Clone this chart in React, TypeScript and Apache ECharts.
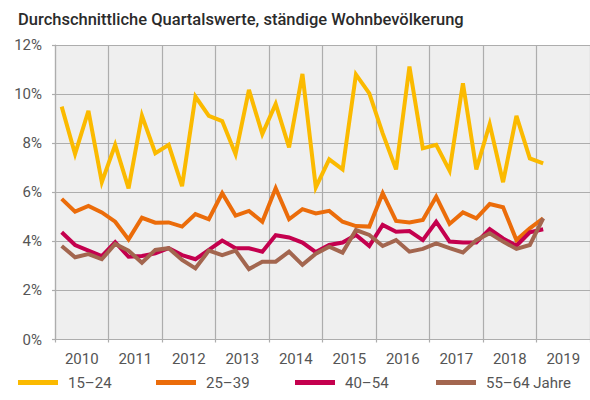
import React, { useEffect, useRef } from "react";
import * as echarts from "echarts";

const titleText = "Durchschnittliche Quartalswerte, ständige Wohnbevölkerung";
const years = ["2010", "2011", "2012", "2013", "2014", "2015", "2016", "2017", "2018", "2019"];
const quarters = years.flatMap((y) => ["Q1", "Q2", "Q3", "Q4"].map((q) => `${y} ${q}`));
const seriesNames = ["15–24", "25–39", "40–54", "55–64 Jahre"];
const colors = ["#FBBA00", "#EB6C0A", "#C4004E", "#A3664F"];

const age15_24 = [
  9.49, 7.56, 9.32, 6.41, 7.93, 6.16, 9.12, 7.59, 7.93, 6.25,
  9.9, 9.11, 8.9, 7.55, 10.17, 8.37, 9.6, 7.83, 10.82, 6.2,
  7.34, 6.93, 10.8, 10.03, 8.4, 6.93, 11.12, 7.79, 7.93, 6.88,
  10.44, 6.93, 8.78, 6.41, 9.11, 7.38, 7.18,
];
const age25_39 = [
  5.73, 5.21, 5.44, 5.18, 4.8, 4.08, 4.96, 4.76, 4.77, 4.6,
  5.11, 4.9, 5.96, 5.05, 5.24, 4.8, 6.16, 4.9, 5.31, 5.14,
  5.24, 4.8, 4.62, 4.6, 5.96, 4.83, 4.77, 4.87, 5.82, 4.71,
  5.18, 4.94, 5.52, 5.39, 4.05, 4.53, 4.94,
];
const age40_54 = [
  4.37, 3.85, 3.62, 3.4, 3.97, 3.37, 3.4, 3.51, 3.72, 3.44,
  3.27, 3.65, 4.03, 3.72, 3.72, 3.58, 4.25, 4.16, 3.95, 3.56,
  3.85, 3.95, 4.26, 3.81, 4.67, 4.39, 4.42, 4.05, 4.8, 3.99,
  3.95, 3.95, 4.5, 4.12, 3.82, 4.37, 4.49,
];
const age55_64 = [
  3.81, 3.35, 3.48, 3.27, 3.89, 3.62, 3.13, 3.65, 3.72, 3.24,
  2.9, 3.62, 3.44, 3.62, 2.87, 3.17, 3.17, 3.58, 3.04, 3.5,
  3.78, 3.54, 4.46, 4.26, 3.81, 4.05, 3.58, 3.69, 3.92, 3.72,
  3.55, 4.05, 4.33, 3.99, 3.69, 3.85, 4.94,
];
const yTicks = [0, 2, 4, 6, 8, 10, 12];

const allData = [age15_24, age25_39, age40_54, age55_64];
const legendLefts = [13, 151, 290, 431];
const gridColor = "#ADADAD";
const labelColor = "#555555";
const font = "Roboto, 'Noto Sans', sans-serif";

export default function App() {
  const ref = useRef<HTMLDivElement>(null);
  useEffect(() => {
    if (!ref.current) return;
    const chart = echarts.init(ref.current, null, { renderer: "svg" });
    chart.setOption({
      animation: false,
      backgroundColor: "#ffffff",
      title: {
        text: titleText,
        left: 13,
        top: 6,
        textStyle: { fontFamily: font, fontSize: 16.5, fontWeight: 500, color: "#2b2b2b" },
      },
      legend: seriesNames.map((n, i) => ({
        data: [n],
        left: legendLefts[i],
        top: 370,
        icon: "rect",
        itemWidth: 40,
        itemHeight: 5,
        textStyle: { fontFamily: font, fontSize: 15, color: labelColor, padding: [0, 0, 0, 5] },
      })),
      grid: { left: 55, top: 45, width: 542, height: 294.5, show: true, backgroundColor: "#EFEFEF", borderWidth: 0 },
      xAxis: [
        {
          type: "category",
          data: quarters,
          boundaryGap: true,
          position: "bottom",
          axisLine: { show: true, lineStyle: { color: gridColor, width: 1.2 } },
          axisTick: { show: true, interval: 3, length: 3, lineStyle: { color: gridColor, width: 1.2 } },
          axisLabel: { show: false },
          splitLine: { show: true, interval: 3, lineStyle: { color: gridColor, width: 1.2 } },
        },
        {
          type: "category",
          data: years,
          boundaryGap: true,
          position: "bottom",
          axisLine: { show: false },
          axisTick: { show: false },
          splitLine: { show: false },
          axisLabel: { show: true, margin: 12, fontFamily: font, fontSize: 15, color: labelColor },
        },
      ],
      yAxis: {
        type: "value",
        min: yTicks[0],
        max: yTicks[yTicks.length - 1],
        interval: 2,
        axisLine: { show: true, lineStyle: { color: gridColor, width: 1.2 } },
        axisTick: { show: true, length: 3, lineStyle: { color: gridColor, width: 1.2 } },
        axisLabel: { margin: 13, fontFamily: font, fontSize: 15, color: labelColor, formatter: "{value}%" },
        splitLine: { show: true, lineStyle: { color: gridColor, width: 1.2 } },
      },
      series: seriesNames.map((n, i) => ({
        name: n,
        type: "line",
        xAxisIndex: 0,
        data: allData[i],
        showSymbol: false,
        symbol: "none",
        color: colors[i],
        lineStyle: { width: 4, color: colors[i], join: "miter" },
      })),
    });
    return () => chart.dispose();
  }, []);
  return (
    <div
      ref={ref}
      style={{ position: "fixed", left: 0, top: 0, width: 590, height: 400 }}
    />
  );
}
